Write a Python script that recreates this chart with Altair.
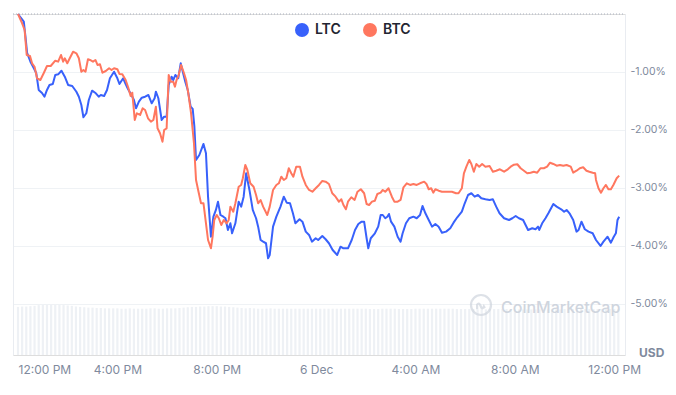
import json
import altair as alt
import pandas as pd

# ---- data (minutes after 12:00 PM, 5 Dec; % change) ----
LTC_MIN = [0, 14, 18, 22, 30, 38, 44, 50, 58, 64, 70, 76, 84, 90, 97, 105, 113, 121, 131, 141,
           147, 153, 158, 165, 171, 179, 188, 195, 200, 208, 215, 222, 232, 240, 245, 254, 260, 266, 274, 280,
           285, 292, 299, 307, 315, 323, 330, 333, 339, 347, 353, 359, 364, 371, 375, 380, 387, 393, 398, 404,
           410, 417, 422, 426, 430, 438, 448, 454, 459, 466, 472, 478, 483, 489, 496, 501, 507, 513, 517, 525,
           533, 539, 545, 551, 559, 567, 575, 580, 586, 592, 599, 604, 608, 616, 624, 634, 642, 649, 657, 664,
           670, 680, 687, 695, 703, 710, 719, 725, 735, 743, 751, 760, 771, 779, 786, 797, 806, 814, 822, 830,
           836, 842, 846, 852, 862, 870, 876, 881, 887, 892, 896, 901, 909, 917, 924, 929, 937, 945, 955, 963,
           971, 977, 984, 992, 1000, 1008, 1016, 1024, 1034, 1044, 1052, 1061, 1072, 1079, 1087, 1095, 1103, 1111, 1119, 1129,
           1139, 1147, 1155, 1163, 1174, 1186, 1194, 1202, 1210, 1220, 1226, 1232, 1242, 1250, 1256, 1259, 1266, 1274, 1281, 1293,
           1301, 1312, 1319, 1325, 1333, 1341, 1349, 1354, 1361, 1369, 1378, 1388, 1396, 1407, 1414, 1424, 1432, 1439, 1444, 1448,
           1452]
LTC_PCT = [0.0, -0.133, -0.391, -0.672, -0.822, -0.931, -1.017, -1.31, -1.362, -1.426, -1.31, -1.224, -1.207, -1.052, -1.04, -0.978, -1.081, -1.224, -1.241, -1.34,
           -1.426, -1.569, -1.781, -1.712, -1.483, -1.322, -1.367, -1.426, -1.397, -1.414, -1.31, -1.109, -0.995, -1.109, -1.207, -1.109, -1.207, -1.298, -1.397, -1.483,
           -1.626, -1.512, -1.443, -1.426, -1.397, -1.54, -1.453, -1.34, -1.453, -1.828, -1.771, -1.771, -1.224, -1.081, -1.138, -1.052, -1.109, -0.85, -0.995, -1.167,
           -1.31, -1.598, -1.638, -1.943, -2.517, -2.431, -2.241, -2.402, -3.15, -3.84, -3.495, -3.379, -3.236, -3.466, -3.495, -3.522, -3.724, -3.609, -3.781, -3.609,
           -3.236, -3.322, -3.15, -2.747, -3.034, -3.379, -3.522, -3.667, -3.897, -3.926, -3.953, -4.212, -4.155, -3.667, -3.495, -3.322, -3.15, -3.253, -3.264, -3.436,
           -3.609, -3.54, -3.581, -3.753, -3.81, -3.926, -3.867, -3.897, -3.828, -3.884, -3.953, -4.069, -4.155, -4.012, -4.04, -4.04, -3.897, -3.724, -3.621, -3.581,
           -3.581, -3.867, -4.04, -3.867, -3.781, -3.667, -3.466, -3.466, -3.522, -3.495, -3.448, -3.581, -3.667, -3.84, -3.926, -3.781, -3.609, -3.522, -3.495, -3.522,
           -3.466, -3.31, -3.436, -3.552, -3.667, -3.621, -3.667, -3.771, -3.753, -3.695, -3.598, -3.505, -3.409, -3.264, -3.121, -3.091, -3.15, -3.121, -3.178, -3.195,
           -3.207, -3.195, -3.322, -3.436, -3.522, -3.552, -3.522, -3.483, -3.522, -3.552, -3.638, -3.724, -3.695, -3.712, -3.667, -3.724, -3.609, -3.522, -3.436, -3.276,
           -3.322, -3.367, -3.409, -3.379, -3.448, -3.552, -3.753, -3.724, -3.581, -3.712, -3.753, -3.781, -3.897, -4.0, -3.926, -3.84, -3.943, -3.84, -3.781, -3.552,
           -3.495]

BTC_MIN = [0, 10, 16, 21, 29, 34, 40, 46, 54, 62, 70, 79, 90, 97, 104, 109, 113, 119, 125, 133,
           141, 147, 153, 158, 163, 169, 174, 181, 187, 192, 198, 204, 212, 220, 226, 232, 240, 245, 252, 260,
           266, 272, 276, 282, 287, 295, 301, 307, 314, 321, 327, 333, 337, 343, 349, 353, 359, 364, 369, 375,
           379, 383, 388, 394, 401, 406, 412, 418, 425, 430, 436, 442, 448, 454, 459, 466, 470, 474, 480, 485,
           491, 497, 504, 509, 513, 520, 525, 533, 539, 543, 549, 554, 561, 569, 575, 580, 586, 592, 602, 608,
           616, 624, 630, 636, 642, 648, 654, 660, 665, 672, 681, 687, 695, 703, 711, 719, 727, 735, 743, 751,
           759, 767, 775, 781, 786, 792, 797, 805, 813, 820, 828, 836, 842, 848, 855, 862, 868, 876, 881, 887,
           895, 903, 909, 917, 924, 931, 939, 947, 955, 963, 971, 981, 987, 992, 998, 1003, 1008, 1016, 1024, 1036,
           1048, 1058, 1064, 1072, 1077, 1083, 1090, 1095, 1101, 1107, 1114, 1121, 1129, 1139, 1147, 1155, 1164, 1174, 1183, 1190,
           1198, 1206, 1214, 1222, 1230, 1238, 1246, 1254, 1262, 1270, 1278, 1285, 1293, 1301, 1309, 1317, 1325, 1335, 1341, 1349,
           1357, 1365, 1373, 1380, 1388, 1394, 1396, 1402, 1408, 1414, 1420, 1426, 1432, 1438, 1446, 1452]
BTC_PCT = [0.0, -0.16, -0.276, -0.707, -0.724, -0.85, -0.909, -1.109, -1.138, -1.022, -0.897, -0.897, -0.805, -0.822, -0.707, -0.822, -0.764, -0.85, -0.764, -0.65,
           -0.678, -0.764, -0.995, -0.966, -0.995, -0.781, -0.793, -0.822, -0.793, -0.879, -0.867, -1.012, -0.983, -0.936, -0.966, -0.936, -0.953, -1.034, -1.04, -1.138,
           -1.264, -1.414, -1.357, -1.828, -1.712, -1.741, -1.626, -1.655, -1.798, -1.857, -1.828, -1.598, -1.971, -2.057, -2.202, -2.0, -1.971, -1.052, -1.167, -1.167,
           -1.253, -1.138, -1.052, -0.879, -1.022, -1.138, -1.397, -1.712, -2.229, -2.862, -3.064, -3.264, -3.264, -3.609, -3.897, -4.04, -3.84, -3.552, -3.466, -3.522,
           -3.638, -3.552, -3.609, -3.552, -3.322, -3.409, -3.264, -2.978, -2.948, -2.833, -2.603, -2.69, -2.919, -2.978, -3.121, -3.264, -3.207, -3.322, -3.466, -3.322,
           -3.034, -2.948, -2.919, -2.805, -2.862, -2.833, -2.66, -2.747, -2.805, -2.633, -2.633, -2.805, -2.948, -3.034, -3.064, -3.005, -2.948, -2.879, -2.891, -2.931,
           -3.091, -3.15, -3.236, -3.195, -3.293, -3.367, -3.236, -3.16, -3.207, -3.064, -3.022, -3.091, -3.276, -3.293, -3.236, -3.219, -3.103, -3.081, -3.034, -3.064,
           -3.005, -3.15, -3.236, -3.236, -3.207, -2.988, -2.919, -2.948, -2.931, -2.948, -2.919, -2.891, -2.936, -3.022, -3.005, -3.081, -3.022, -3.047, -3.064, -3.064,
           -3.064, -3.091, -3.091, -3.005, -2.747, -2.633, -2.517, -2.586, -2.719, -2.586, -2.633, -2.586, -2.633, -2.621, -2.719, -2.702, -2.678, -2.719, -2.678, -2.633,
           -2.598, -2.591, -2.66, -2.702, -2.747, -2.736, -2.719, -2.736, -2.66, -2.66, -2.633, -2.564, -2.586, -2.616, -2.603, -2.616, -2.603, -2.633, -2.736, -2.702,
           -2.66, -2.643, -2.702, -2.719, -2.736, -2.747, -2.862, -3.005, -3.081, -3.005, -2.948, -3.022, -3.022, -2.948, -2.833, -2.788]

# volume (relative units), one bar every 10 minutes
VOLUME = [13.4, 13.5, 13.5, 13.6, 13.7,
          13.9, 14.0, 14.0, 14.1, 14.0, 14.0, 13.9, 13.8, 13.7,
          13.5, 13.4, 13.3, 13.2, 13.2, 13.1, 13.1, 13.0, 13.0, 13.0, 13.0, 12.9, 12.9, 13.0, 12.9, 12.9,
          12.9, 12.9, 13.0, 13.0, 12.9, 12.9, 13.0, 13.0, 13.0, 13.1, 13.2, 13.3, 13.4, 13.4, 13.5,
          13.5, 13.6, 13.6, 13.6, 13.5, 13.5, 13.4, 13.3, 13.2, 13.1,
          13.0, 13.1, 13.0, 12.9, 12.9, 12.9, 13.0, 12.9, 12.9, 12.9,
          12.9, 12.9, 12.9, 12.9, 12.9, 12.9, 12.9, 12.9, 12.9, 12.9,
          12.9, 12.9, 12.9, 12.9, 12.9, 12.9, 12.9, 12.9, 12.9, 12.9,
          12.8, 12.8, 12.8, 12.9, 12.9, 12.9, 12.9, 12.8, 12.8, 12.8,
          12.8, 12.9, 12.9, 12.9, 12.9, 12.9, 12.9, 12.9, 12.9, 12.9,
          12.9, 12.8, 12.8, 12.8,
          12.8, 12.8, 12.7, 12.7, 12.7, 12.8, 12.8, 12.8, 12.8, 12.8,
          12.7, 12.7, 12.7, 12.7, 12.7, 12.7, 12.7, 12.7, 12.7, 12.7,
          12.7, 12.7, 12.7, 12.8, 12.8, 12.8, 12.8, 12.8, 12.8, 12.8,
          12.8, 12.8, 12.8, 12.8, 12.8, 12.8, 12.8]
VOLUME_STEP_MIN = 10

SERIES = ["LTC", "BTC"]
COLORS = ["#3861fb", "#ff775f"]
TICK_HOURS = [0, 4, 8, 12, 16, 20, 24]
TICK_LABELS = ["12:00 PM", "4:00 PM", "8:00 PM", "6 Dec", "4:00 AM", "8:00 AM", "12:00 PM"]
Y_TICKS = [-1, -2, -3, -4, -5]
X_END_MIN = 1454
Y_MIN = -5.88

W, H = 612, 341
FONT = "Inter"
GRAY = "#808a9d"
FRAME = "#e9ecf1"

price = pd.concat([
    pd.DataFrame({"min": LTC_MIN, "pct": LTC_PCT, "coin": "LTC", "order": 0}),
    pd.DataFrame({"min": BTC_MIN, "pct": BTC_PCT, "coin": "BTC", "order": 1}),
], ignore_index=True)
price["hours"] = price["min"] / 60.0

vol = pd.DataFrame({"vol": VOLUME})
vol["hours"] = [i * VOLUME_STEP_MIN / 60.0 for i in range(len(VOLUME))]

xscale = alt.Scale(domain=[0, X_END_MIN / 60.0], nice=False, zero=False)
label_map = json.dumps(dict(zip([str(h) for h in TICK_HOURS], TICK_LABELS)))


def x_axis():
    return alt.Axis(values=TICK_HOURS, labelExpr=f"{label_map}[''+datum.value]", title=None,
                    grid=False, ticks=False, domain=False, labelPadding=9,
                    labelAlign={"condition": {"test": "datum.value == 0", "value": "left"},
                                "value": "center"},
                    labelFont=FONT, labelFontSize=12, labelColor=GRAY)


color_scale = alt.Scale(domain=SERIES, range=COLORS)

volume = alt.Chart(vol).mark_bar(color="#eef1f5", size=2.2).encode(
    x=alt.X("hours:Q", scale=xscale, axis=x_axis()),
    y=alt.Y("vol:Q", scale=alt.Scale(domain=[0, 95]),
            axis=alt.Axis(orient="left", labels=False, ticks=False, grid=False, domain=True,
                          domainColor=FRAME, title=None)),
)

lines = alt.Chart(price).mark_line(strokeJoin="round").encode(
    x=alt.X("hours:Q", scale=xscale, axis=x_axis()),
    y=alt.Y("pct:Q", scale=alt.Scale(domain=[Y_MIN, 0], nice=False, zero=False),
            axis=alt.Axis(orient="right", values=Y_TICKS, title=None, ticks=False,
                          domain=True, domainColor=FRAME, grid=True, gridColor="#eff2f5",
                          labelPadding=5, labelFont=FONT, labelFontSize=10.5, labelColor=GRAY,
                          labelExpr="(datum.value < 0 ? '-' : '') + format(abs(datum.value), '.2f') + '%'")),
    color=alt.Color("coin:N", scale=color_scale,
                    legend=alt.Legend(orient="none", legendX=282, legendY=9, direction="horizontal",
                                      title=None, symbolType="circle", symbolSize=196,
                                      symbolStrokeWidth=0,
                                      symbolFillColor={"expr": "scale('color', datum.value)"},
                                      labelFont=FONT, labelFontSize=14, labelFontWeight=600,
                                      labelColor="#222531", labelOffset=6, columnPadding=22,
                                      padding=0)),
    strokeWidth=alt.value(2),
    order=alt.Order("order:Q"),
    detail="coin:N",
)

one = pd.DataFrame({"k": [0]})
top_line = alt.Chart(one).mark_rule(color="#aab1bf", strokeDash=[1, 2], strokeWidth=1).encode(
    x=alt.value(0), x2=alt.value(W), y=alt.value(0)
)
logo_ring = alt.Chart(one).mark_point(shape="circle", size=400, filled=False,
                                      color="#cfd5de", strokeWidth=2.2).encode(
    x=alt.value(468), y=alt.value(291)
)
logo_m = alt.Chart(one).mark_point(
    shape="M -0.55 0.45 L -0.55 -0.2 Q -0.3 -0.55 -0.1 -0.1 L 0.05 0.25 Q 0.2 0.5 0.4 0.05 L 0.55 0.3",
    size=200, filled=False, color="#cfd5de", strokeWidth=2.2).encode(
    x=alt.value(468), y=alt.value(292)
)
watermark = alt.Chart(one).mark_text(text="CoinMarketCap", align="left", baseline="middle",
                                     font=FONT, fontSize=16, fontWeight=500, color="#cfd5de").encode(
    x=alt.value(488), y=alt.value(294)
)
usd = alt.Chart(one).mark_text(text="USD", align="left", baseline="middle", font=FONT,
                               fontSize=12, fontWeight=700, color=GRAY).encode(
    x=alt.value(626), y=alt.value(339)
)

chart = alt.layer(volume, top_line, logo_ring, logo_m, watermark, lines, usd).resolve_scale(
    y="independent"
).properties(
    width=W, height=H,
    autosize=alt.AutoSizeParams(type="none"),
    padding={"left": 5, "top": 6, "right": 43, "bottom": 30},
).configure_view(stroke=None).configure(background="white")

chart.save("out.html", embed_options={"renderer": "svg", "actions": False})
